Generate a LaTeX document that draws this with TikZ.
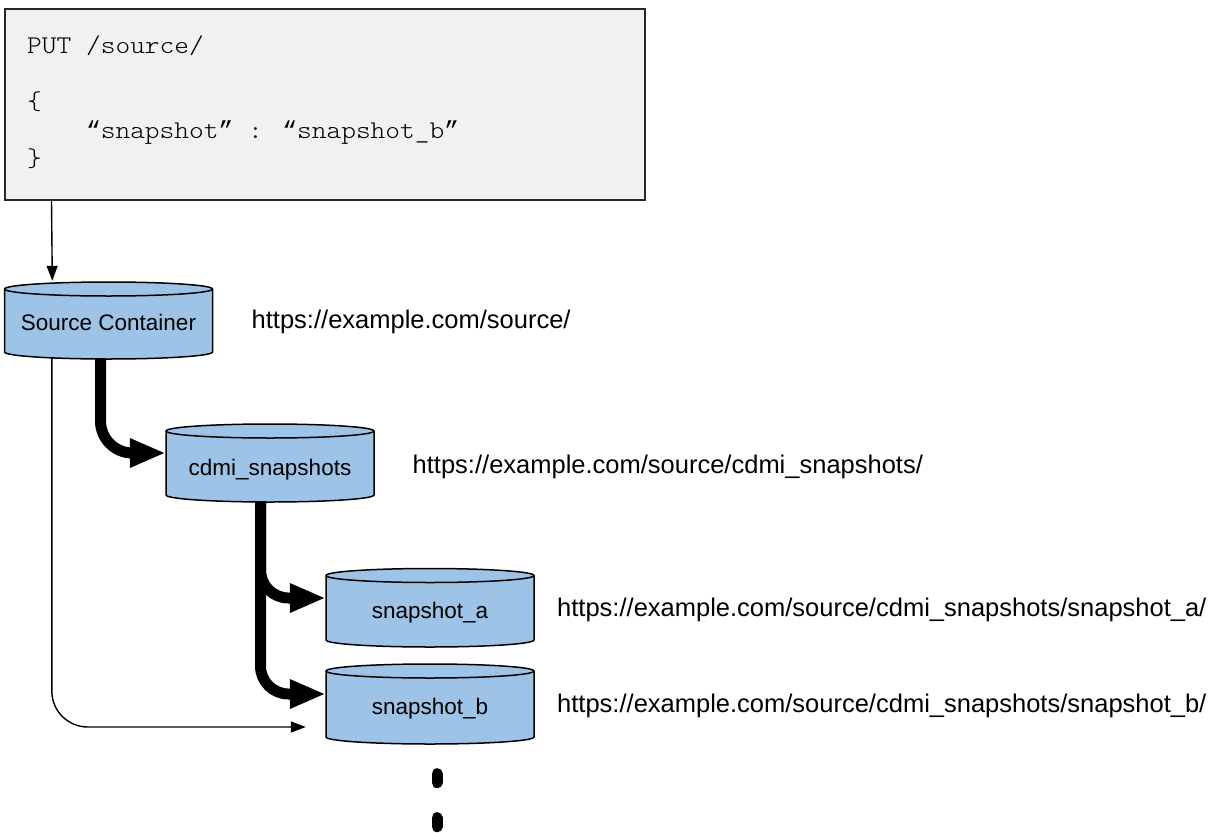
\documentclass[tikz,border=0pt]{standalone}
\usepackage{fontspec}
\setmainfont{Liberation Sans}
\newfontfamily\codefont[FakeStretch=1.1]{Latin Modern Mono Light}
\newfontfamily\quotefont{Liberation Mono}
\usetikzlibrary{arrows.meta}

\definecolor{drumblue}{RGB}{157,195,230}
\definecolor{panelgray}{RGB}{241,241,243}
\definecolor{panelline}{RGB}{40,40,40}

\pgfdeclarelayer{background}
\pgfsetlayers{background,main}

% curly quotes taken from a font that draws them curly, on the same character cell
\newcommand\openq{{\quotefont\fontsize{24.5}{28}\selectfont “}}
\newcommand\closeq{{\quotefont\fontsize{24.5}{28}\selectfont ”}}

\tikzset{
  drumbody/.style={fill=drumblue, draw=black, line width=1.5pt, line join=round},
  drumedge/.style={draw=black, line width=1.5pt},
  drumframe/.style={rectangle, minimum width=208pt, inner sep=0pt},
  drumlabel/.style={anchor=base, inner sep=0pt, font=\fontsize{22.5}{27}\selectfont},
  url/.style={anchor=base west, inner sep=0pt, font=\fontsize{25.5}{30}\selectfont},
  codeline/.style={anchor=base west, inner sep=0pt, font=\codefont\fontsize{25.5}{28}\selectfont},
  panel/.style={rectangle, fill=panelgray, draw=panelline, line width=2pt,
    minimum width=640pt, minimum height=191pt, inner sep=0pt},
  thinarrow/.style={draw=black, line width=1.4pt, rounded corners=36pt,
    -{Triangle[length=15pt,width=11pt]}},
  thickarrow/.style={draw=black, line width=11pt,
    -{Triangle[length=36pt,width=27pt]}},
  morelink/.style={draw=black, line width=11pt, line cap=round,
    dash pattern=on 9pt off 35pt, dash phase=19.5pt},
}

% container drawn as a cylinder: name, centre x, top ellipse y, bottom ellipse y, label baseline y, label
\newcommand\drum[6]{%
  \path[drumbody] (#2-104,#3) -- (#2-104,#4)
    arc[start angle=180, end angle=0, x radius=104, y radius=7]
    -- (#2+104,#3)
    arc[start angle=0, end angle=-180, x radius=104, y radius=7] -- cycle;
  \draw[drumedge] (#2-104,#3) arc[start angle=180, end angle=0, x radius=104, y radius=7];
  \node[drumframe, minimum height={#4-#3}] (#1) at (#2,{(#3+#4)/2}) {};
  \node[drumlabel] (#1-label) at (#2,#5) {#6};
}

\begin{document}
\begin{tikzpicture}[x=1pt, y=-1pt]
  \useasboundingbox (0,0) rectangle (1219,833);

  % request body
  \node[panel] (code) at (325,104.5) {};
  \node[codeline] (code-l1) at (27,53) {PUT /source/};
  \node[codeline] (code-l2) at (27,109.7) {\{};
  \node[codeline] (code-l3) at (27,138) {\phantom{0000}\openq snapshot\closeq{} : \openq snapshot\_b\closeq};
  \node[codeline] (code-l4) at (27,166.3) {\}};

  % containers
  \drum{src}{108.5}{289}{352}{330.5}{Source Container}
  \drum{snaps}{270}{431}{495}{475}{cdmi\_snapshots}
  \drum{snapa}{430}{575.5}{640}{618}{snapshot\_a}
  \drum{snapb}{430}{671}{737}{714}{snapshot\_b}

  % URIs
  \node[url] (url-src) at (251.5,328) {https://example.com/source/};
  \node[url] (url-snaps) at (412.5,473) {https://example.com/source/cdmi\_snapshots/};
  \node[url] (url-a) at (557,616) {https://example.com/source/cdmi\_snapshots/snapshot\_a/};
  \node[url] (url-b) at (557,712) {https://example.com/source/cdmi\_snapshots/snapshot\_b/};

  \coordinate (more) at (437,833);

  \begin{pgfonlayer}{background}
    \draw[thinarrow] ([xshift=47.5pt]code.south west) -- ([xshift=48pt,yshift=8pt]src.north west);
    \draw[thickarrow, rounded corners=32pt] ([xshift=-8pt]src.south) |- ([yshift=10pt]snaps.west);
    \draw[thickarrow, rounded corners=28pt] ([xshift=-9.5pt]snaps.south) |- ([yshift=9.75pt]snapa.west);
    \draw[thickarrow, rounded corners=28pt] ([xshift=-9.5pt]snaps.south) |- ([yshift=10pt]snapb.west);
    \draw[thinarrow] ([xshift=47.5pt]src.south west) |- ([xshift=-20pt,yshift=-23pt]snapb.west);
    \draw[morelink] ([xshift=7pt,yshift=-12pt]snapb.south) -- (more);
  \end{pgfonlayer}
\end{tikzpicture}
\end{document}
